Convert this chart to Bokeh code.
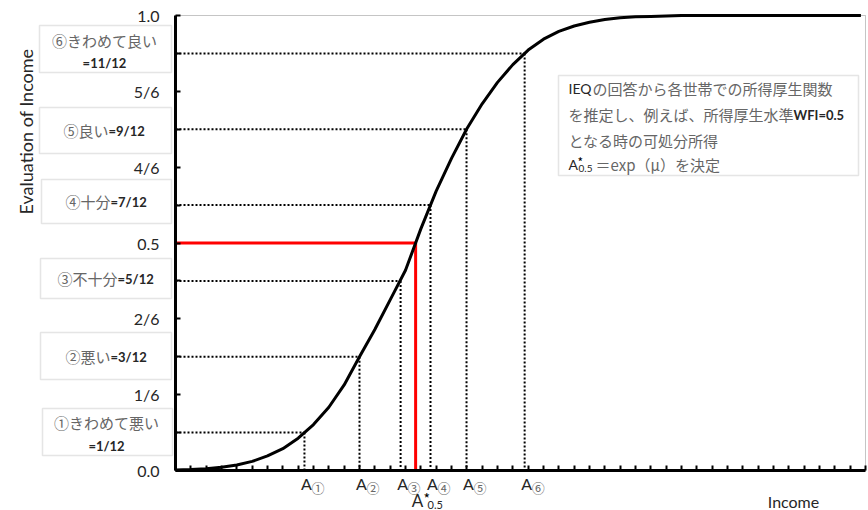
import math
from bokeh.plotting import figure
from bokeh.models import Range1d, FixedTicker, Label, BoxAnnotation, ColumnDataSource
from bokeh.embed import file_html
from bokeh.resources import INLINE

# ---------------- data ----------------
income = [0, 1, 2, 3, 4, 5, 6, 7, 8, 9, 10, 11, 12, 13, 14, 15, 16, 17, 18, 19,
          20, 21, 22, 23, 24, 25, 26, 27, 28, 29, 30, 31, 32, 33, 34, 35, 36, 37,
          38, 39, 40, 41, 42, 43, 44, 44.7]
evaluation = [0.001, 0.002, 0.004, 0.007, 0.012, 0.020, 0.032, 0.048, 0.071, 0.101,
              0.139, 0.188, 0.250, 0.310, 0.375, 0.440, 0.531, 0.614, 0.686, 0.751,
              0.806, 0.853, 0.892, 0.924, 0.948, 0.965, 0.977, 0.985, 0.991, 0.995,
              0.997, 0.998, 0.999, 1.0, 1.0, 1.0, 1.0, 1.0, 1.0, 1.0, 1.0, 1.0, 1.0,
              1.0, 1.0, 1.0]

level_names = ["①きわめて悪い", "②悪い", "③不十分", "④十分", "⑤良い", "⑥きわめて良い"]
level_fracs = ["=1/12", "=3/12", "=5/12", "=7/12", "=9/12", "=11/12"]
level_values = [1 / 12, 3 / 12, 5 / 12, 7 / 12, 9 / 12, 11 / 12]
a_incomes = [8.41, 12.0, 14.68, 16.63, 18.98, 22.77]
a_marks = ["①", "②", "③", "④", "⑤", "⑥"]
a_star = 15.66
wfi_target = 0.5

y_ticks = [0.0, 1 / 6, 2 / 6, 0.5, 4 / 6, 5 / 6, 1.0]
y_tick_labels = ["0.0", "1/6", "2/6", "0.5", "4/6", "5/6", "1.0"]
y_minor = [1 / 12, 3 / 12, 5 / 12, 7 / 12, 9 / 12, 11 / 12]
x_ticks = list(range(0, 46))
x_max = 45

note_lines = ["IEQの回答から各世帯での所得厚生関数",
              "を推定し、例えば、所得厚生水準WFI=0.5",
              "となる時の可処分所得",
              "A*0.5＝exp（μ）を決定"]

# ---------------- layout ----------------
W, H = 868, 510
FL, FR, FT, FB = 175, 865, 15, 470   # plot-area edges in page pixels


def dx(px):
    return (px - FL) * x_max / (FR - FL)


def dy(py):
    return (FB - py) / (FB - FT)


JP = "Noto Sans CJK JP"
LT = "Lato"
GRAY = "#666666"
DARK = "#262626"

p = figure(width=W, height=H, x_range=Range1d(dx(0), dx(W)), y_range=Range1d(dy(H), dy(0)),
           output_backend="svg", toolbar_location=None, title=None,
           min_border_left=0, min_border_right=0, min_border_top=0, min_border_bottom=0)
p.outline_line_color = None
p.grid.visible = False
p.background_fill_color = "white"
p.border_fill_color = "white"

# plot-area border (top/right)
p.add_layout(BoxAnnotation(left=0, right=x_max, bottom=0, top=1, fill_alpha=0,
                           line_color="#404040", line_width=1, level="underlay"))

# x axis
p.xaxis.fixed_location = 0
p.xaxis.bounds = (0, x_max)
p.xaxis.ticker = FixedTicker(ticks=x_ticks)
p.xaxis.major_label_overrides = {t: "" for t in x_ticks}
p.xaxis.major_tick_in = 5
p.xaxis.major_tick_out = 0
p.xaxis.major_tick_line_width = 2
p.xaxis.minor_tick_line_color = None
p.xaxis.axis_line_width = 3
p.xaxis.axis_line_color = "black"
p.xaxis.major_tick_line_color = "black"

# y axis
p.yaxis.fixed_location = 0
p.yaxis.bounds = (0, 1)
p.yaxis.ticker = FixedTicker(ticks=y_ticks, minor_ticks=y_minor)
p.yaxis.major_label_overrides = dict(zip(y_ticks, y_tick_labels))
p.yaxis.major_tick_in = 5
p.yaxis.major_tick_out = 0
p.yaxis.minor_tick_in = 5
p.yaxis.minor_tick_out = 0
p.yaxis.major_tick_line_width = 2
p.yaxis.minor_tick_line_width = 2
p.yaxis.major_tick_line_color = "black"
p.yaxis.minor_tick_line_color = "black"
p.yaxis.axis_line_width = 3
p.yaxis.axis_line_color = "black"
p.yaxis.major_label_standoff = 16
p.yaxis.major_label_text_font = LT
p.yaxis.major_label_text_font_size = "16px"
p.yaxis.major_label_text_color = DARK

# dotted guide lines
src = ColumnDataSource(dict(a=a_incomes, v=level_values, zero=[0.0] * len(a_incomes)))
p.segment(x0="zero", y0="v", x1="a", y1="v", source=src, line_color="black",
          line_width=2, line_dash="2 2")
p.segment(x0="a", y0="v", x1="a", y1="zero", source=src, line_color="black",
          line_width=2, line_dash="2 2")

# red WFI = 0.5 lines
p.line(x=[0, a_star], y=[wfi_target, wfi_target], line_color="#ff0000", line_width=3)
p.line(x=[a_star, a_star], y=[wfi_target, 0], line_color="#ff0000", line_width=3)

# welfare function curve
p.line(x=income, y=evaluation, line_color="black", line_width=3, line_join="round")


def lab(text, px, py, size, color=DARK, font=LT, align="left", bold=False, angle=0.0):
    p.add_layout(Label(x=dx(px), y=dy(py), text=text, text_font_size=f"{size}px",
                       text_color=color, text_font=font, text_align=align,
                       text_baseline="middle",
                       text_font_style="bold" if bold else "normal", angle=angle))


def box(x0, y0, x1, y1):
    p.add_layout(BoxAnnotation(left=dx(x0), right=dx(x1), top=dy(y0), bottom=dy(y1),
                               fill_color="white", fill_alpha=1.0,
                               line_color="#aaaaaa", line_width=1.5))


# y axis title
lab("Evaluation of Income", 25, 131, 18, align="center", angle=math.pi / 2)

# left category boxes
boxes = [(42, 408, 172, 455), (40, 332, 171, 379), (40, 258, 171, 298),
         (41, 179, 171, 223), (39, 107, 171, 153), (39, 25, 171, 72)]
for b in boxes:
    box(*b)
# two-line boxes (1 and 6)
lab(level_names[0], 106, 422, 15, color=GRAY, font=JP, align="center")
lab(level_fracs[0], 106, 445, 13, bold=True, align="center")
lab(level_names[5], 104, 40, 15, color=GRAY, font=JP, align="center")
lab(level_fracs[5], 104, 62, 13, bold=True, align="center")
# one-line boxes
for i, (sx, sy) in zip([1, 2, 3, 4], [(110, 356), (117, 278), (110, 201), (108, 130)]):
    lab(level_names[i], sx, sy, 15, color=GRAY, font=JP, align="right")
    lab(level_fracs[i], sx, sy, 13, bold=True, align="left")

# x labels A1..A6
for a, m in zip(a_incomes, a_marks):
    p.add_layout(Label(x=a, y=dy(483), x_offset=2, text="A", text_font=LT,
                       text_font_size="16px", text_color=DARK, text_align="center",
                       text_baseline="middle"))
    p.add_layout(Label(x=a, y=dy(487), x_offset=7, text=m, text_font=JP,
                       text_font_size="13px", text_color=GRAY, text_align="left",
                       text_baseline="middle"))
# A*0.5
p.add_layout(Label(x=a_star, y=dy(500), x_offset=2, text="A", text_font=LT,
                   text_font_size="17px", text_color=DARK, text_align="center",
                   text_baseline="middle"))
p.add_layout(Label(x=a_star, y=dy(497), x_offset=8, text="*", text_font=JP,
                   text_font_size="14px", text_color="black", text_align="left",
                   text_baseline="middle"))
p.add_layout(Label(x=a_star, y=dy(504), x_offset=12, text="0.5", text_font=LT,
                   text_font_size="11px", text_color=DARK, text_align="left",
                   text_baseline="middle"))

# x axis title
lab("Income", 793, 501, 16, align="center")

# note box
box(558, 75, 858, 175)
lab("IEQ", 568, 88, 14, color=DARK)
lab(note_lines[0][3:], 592, 88, 15, color=GRAY, font=JP)
lab(note_lines[1][:15], 568, 114, 15, color=GRAY, font=JP)
lab(note_lines[1][15:], 793, 114, 13, color=DARK, bold=True)
lab(note_lines[2], 568, 140, 15, color=GRAY, font=JP)
lab("A", 568, 164, 14, color=DARK)
lab("*", 577, 161, 12, color="black", font=JP)
lab("0.5", 578, 168, 10, color=DARK)
lab(note_lines[3][5:], 595, 164, 15, color=GRAY, font=JP)

open("out.html", "w").write(file_html(p, INLINE))
